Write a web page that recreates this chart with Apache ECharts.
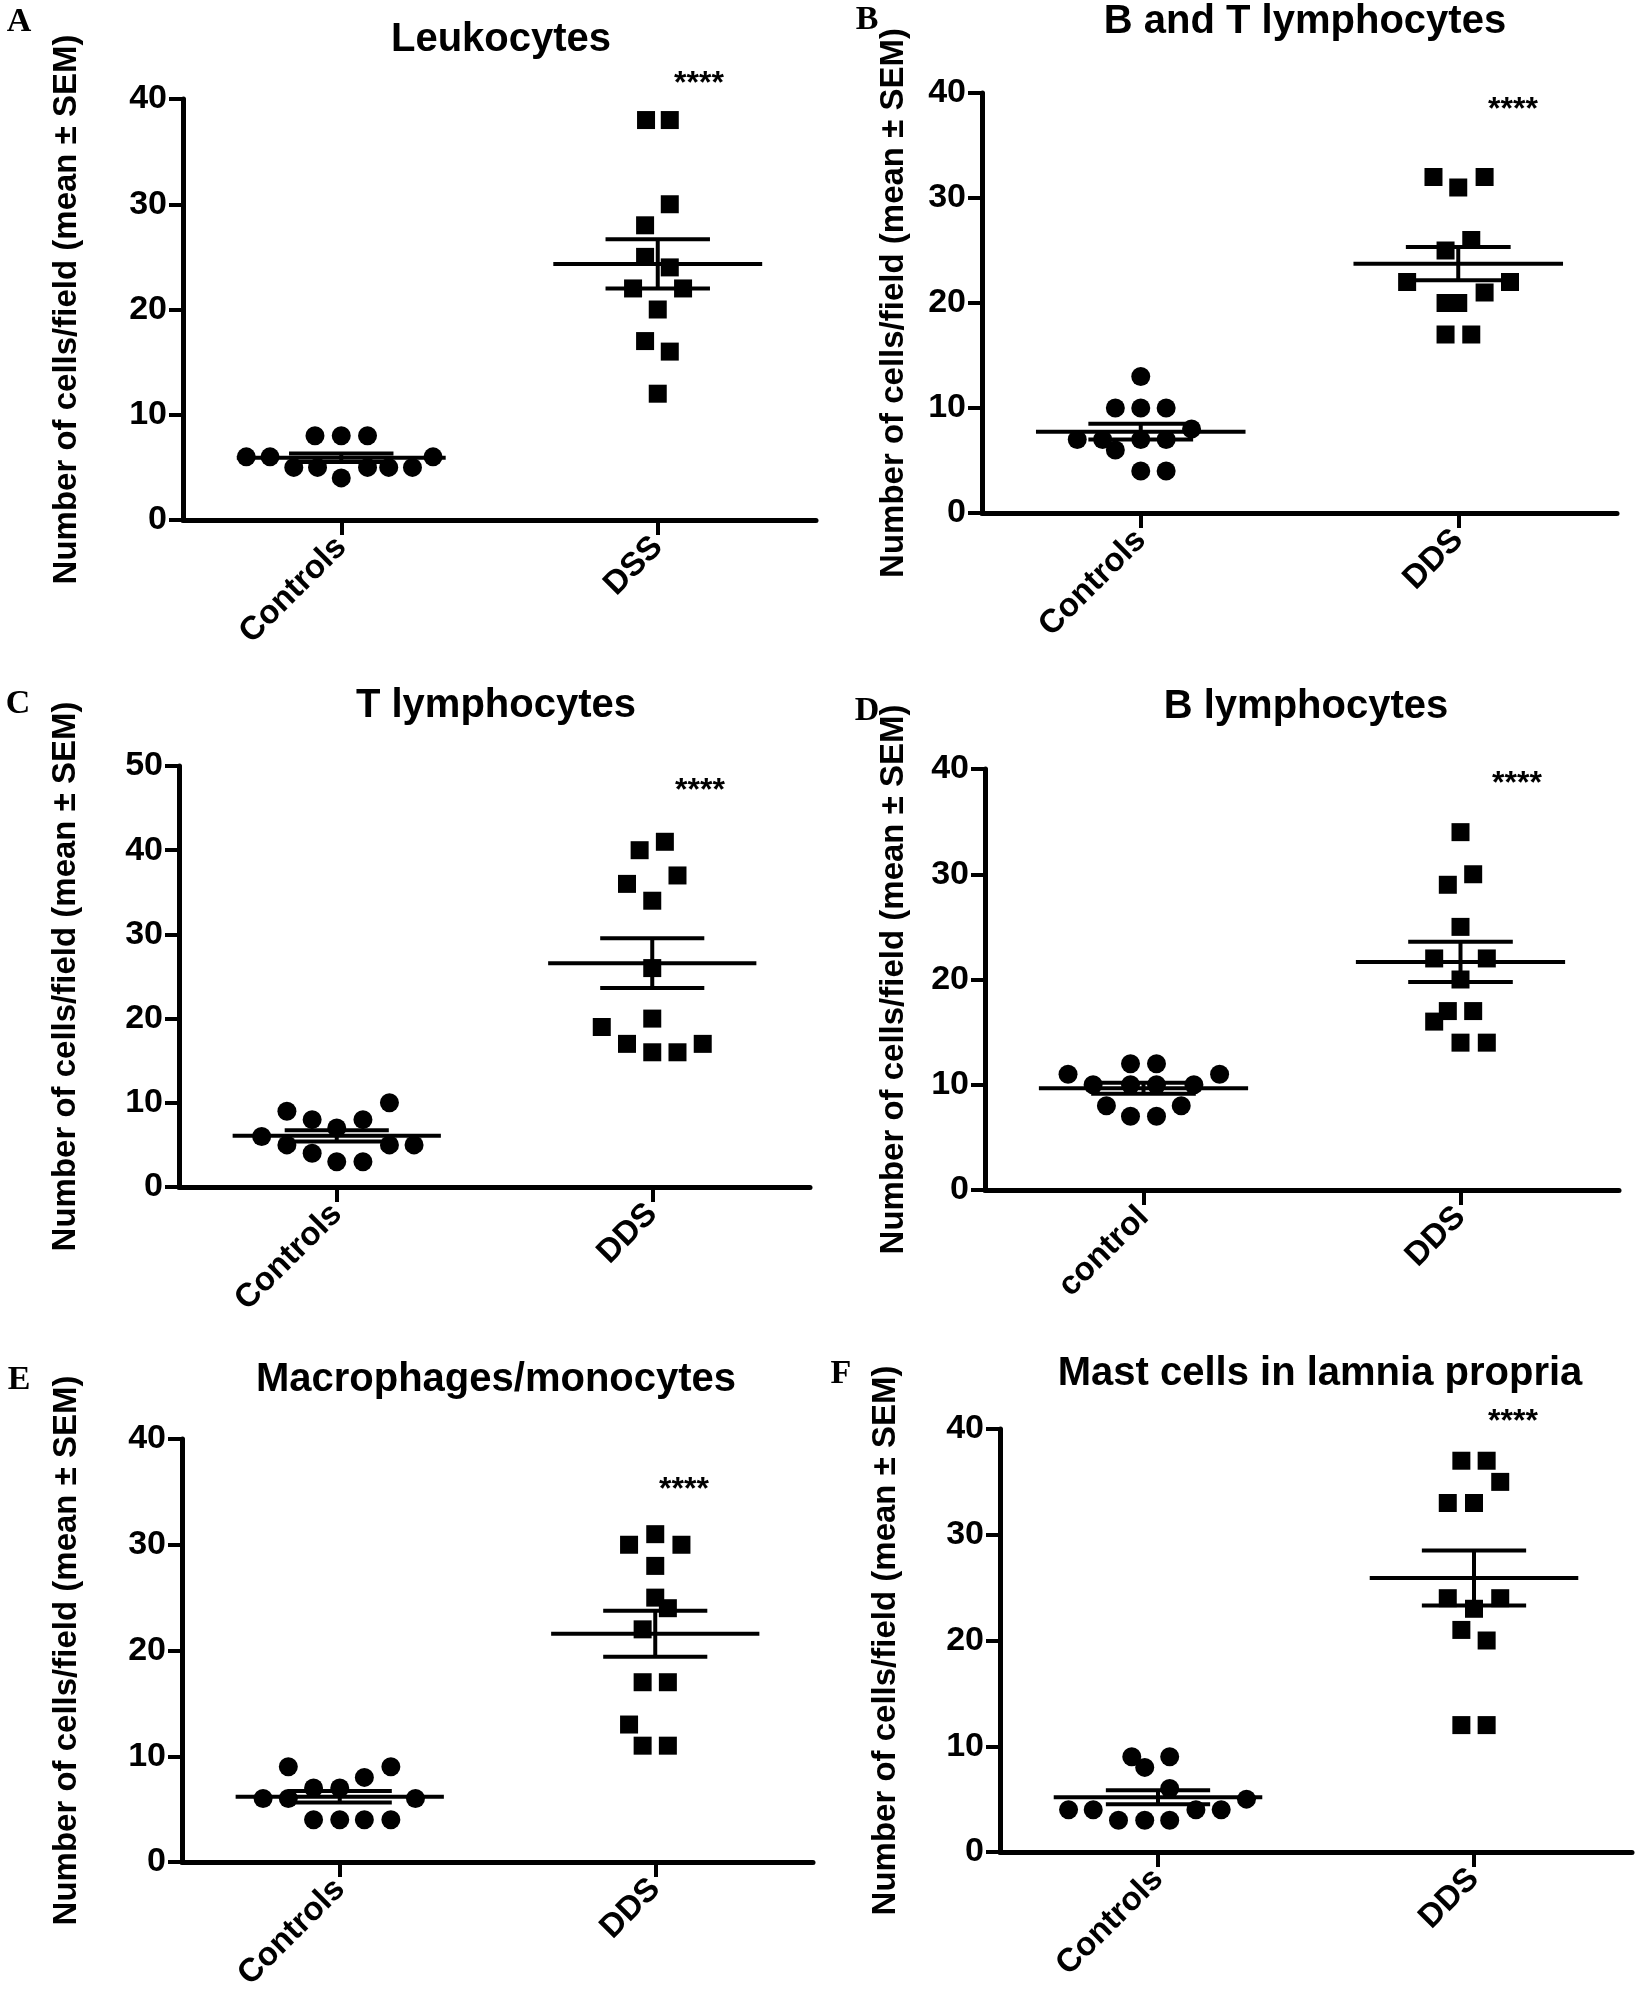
<!DOCTYPE html>
<html><head><meta charset="utf-8">
<script src="https://cdn.jsdelivr.net/npm/echarts/dist/echarts.min.js"></script>
<style>html,body{margin:0;padding:0;background:#fff}#c{width:1644px;height:2003px}</style>
</head><body><div id="c"></div>
<script>
// ---------- data ----------
const panelTitles = ['Leukocytes','B and T lymphocytes','T lymphocytes','B lymphocytes','Macrophages/monocytes','Mast cells in lamnia propria'];
const panelLetters = ['A','B','C','D','E','F'];
const yAxisName = 'Number of cells/field (mean \u00b1 SEM)';
const significance = '****';

const catsA = ['Controls','DSS'];
const catsB = ['Controls','DDS'];
const catsC = ['Controls','DDS'];
const catsD = ['control','DDS'];
const catsE = ['Controls','DDS'];
const catsF = ['Controls','DDS'];

const yMaxes = [40, 40, 50, 40, 40, 40];
const yStep = 10;

// A Leukocytes
const leukoCtrl = [8,8,8,6,6,6,5,5,5,5,5,4];
const leukoCtrlJitter = [-0.083,0,0.083,-0.3,-0.225,0.29,-0.15,-0.075,0.083,0.15,0.225,0];
const leukoDss = [38,38,30,28,25,24,22,22,20,17,16,12];
const leukoDssJitter = [-0.037,0.038,0.038,-0.04,-0.04,0.038,-0.078,0.08,0,-0.04,0.038,0];
// B B and T lymphocytes
const btCtrl = [13,10,10,10,8,7,7,7,7,6,4,4];
const btCtrlJitter = [0,-0.08,0,0.08,0.16,-0.2,-0.12,0,0.08,-0.08,0,0.08];
const btDds = [32,32,31,26,25,22,22,21,20,20,17,17];
const btDdsJitter = [-0.078,0.083,0,0.041,-0.04,-0.161,0.163,0.083,-0.04,0,-0.04,0.041];
// C T lymphocytes
const tCtrl = [9,10,8,8,7,6,5,5,5,4,3,3];
const tCtrlJitter = [-0.158,0.167,-0.078,0.083,0,-0.238,-0.158,0.167,0.245,-0.078,0,0.083];
const tDds = [41,40,37,36,34,26,20,19,17,16,16,17];
const tDdsJitter = [0.04,-0.04,0.08,-0.08,0,0,0,-0.16,-0.08,0,0.08,0.16];
// D B lymphocytes
const bCtrl = [12,12,11,11,10,10,10,10,8,8,7,7];
const bCtrlJitter = [-0.041,0.041,-0.238,0.24,-0.159,-0.041,0.041,0.159,-0.117,0.119,-0.041,0.041];
const bDds = [34,30,29,25,22,22,20,17,17,16,14,14];
const bDdsJitter = [0,0.04,-0.04,0,-0.083,0.083,0,-0.04,0.04,-0.083,0,0.083];
// E Macrophages/monocytes
const macCtrl = [9,9,8,7,7,6,6,6,4,4,4,4];
const macCtrlJitter = [-0.163,0.162,0.078,-0.083,0,-0.243,-0.163,0.24,-0.083,0,0.078,0.162];
const macDds = [31,30,30,28,25,24,22,17,17,13,11,11];
const macDdsJitter = [0,-0.083,0.083,0,0,0.04,-0.04,-0.04,0.04,-0.083,-0.04,0.04];
// F Mast cells
const mastCtrl = [9,9,8,6,5,4,4,4,4,3,3,3];
const mastCtrlJitter = [-0.083,0.037,-0.042,0.037,0.28,-0.283,-0.205,0.12,0.2,-0.125,-0.042,0.037];
const mastDds = [37,37,35,33,33,24,24,23,21,20,12,12];
const mastDdsJitter = [-0.04,0.04,0.083,-0.083,0,-0.083,0.083,0,-0.04,0.04,-0.04,0.04];

// ---------- layout ----------
const FONT = '"Liberation Sans", Arial, Helvetica, sans-serif';
const layouts = [
  {left:183, top:99,  width:633, height:421, nameGap:100, title:[501,40],   stars:[699,84],   letter:[19,22]},
  {left:982, top:93,  width:635, height:420, nameGap:72,  title:[1305,22],  stars:[1513,110], letter:[867,20]},
  {left:179, top:766, width:631, height:421, nameGap:97,  title:[496,706],  stars:[700,791],  letter:[18,704]},
  {left:985, top:769, width:634, height:421, nameGap:75,  title:[1306,707], stars:[1517,784], letter:[867,711]},
  {left:182, top:1439,width:631, height:423, nameGap:99,  title:[496,1380], stars:[684,1490], letter:[19,1380]},
  {left:1000,top:1429,width:632, height:423, nameGap:98,  title:[1320,1374],stars:[1513,1422],letter:[841,1374]}
];
const groups = [
  {cats:catsA, ctrl:leukoCtrl, ctrlJ:leukoCtrlJitter, dds:leukoDss, ddsJ:leukoDssJitter},
  {cats:catsB, ctrl:btCtrl, ctrlJ:btCtrlJitter, dds:btDds, ddsJ:btDdsJitter},
  {cats:catsC, ctrl:tCtrl, ctrlJ:tCtrlJitter, dds:tDds, ddsJ:tDdsJitter},
  {cats:catsD, ctrl:bCtrl, ctrlJ:bCtrlJitter, dds:bDds, ddsJ:bDdsJitter},
  {cats:catsE, ctrl:macCtrl, ctrlJ:macCtrlJitter, dds:macDds, ddsJ:macDdsJitter},
  {cats:catsF, ctrl:mastCtrl, ctrlJ:mastCtrlJitter, dds:mastDds, ddsJ:mastDdsJitter}
];

function stats(arr){
  const n = arr.length;
  const m = arr.reduce((a,b)=>a+b,0)/n;
  const sd = Math.sqrt(arr.reduce((a,b)=>a+(b-m)*(b-m),0)/(n-1));
  return [m, sd/Math.sqrt(n)];
}

function renderMeanSem(params, api){
  const c = api.value(0), m = api.value(1), s = api.value(2);
  const p = (x,y)=>api.coord([x,y]);
  const st = {stroke:'#000', lineWidth:4};
  const mk = (a,b)=>({type:'line', shape:{x1:a[0],y1:a[1],x2:b[0],y2:b[1]}, style:st});
  return {type:'group', children:[
    mk(p(c-0.33,m), p(c+0.33,m)),
    mk(p(c-0.165,m+s), p(c+0.165,m+s)),
    mk(p(c-0.165,m-s), p(c+0.165,m-s)),
    mk(p(c,m-s), p(c,m+s))
  ]};
}

const grid=[], xAxis=[], yAxis=[], series=[], graphic=[];
layouts.forEach((L,i)=>{
  const g = groups[i];
  grid.push({left:L.left, top:L.top, width:L.width, height:L.height, containLabel:false});
  xAxis.push({
    type:'category', gridIndex:i, data:g.cats, boundaryGap:true,
    axisLine:{show:true, lineStyle:{color:'#000', width:5}},
    axisTick:{show:true, alignWithLabel:true, length:15, lineStyle:{color:'#000', width:4}},
    axisLabel:{rotate:45, margin:22, color:'#000', fontSize:33, fontWeight:'bold', fontFamily:FONT},
    splitLine:{show:false}
  });
  xAxis.push({type:'value', gridIndex:i, min:0, max:2, show:false});
  yAxis.push({
    type:'value', gridIndex:i, min:0, max:yMaxes[i], interval:yStep,
    axisLine:{show:true, lineStyle:{color:'#000', width:5}},
    axisTick:{show:true, length:14, lineStyle:{color:'#000', width:4}},
    axisLabel:{margin:16, color:'#000', fontSize:34, fontWeight:'bold', fontFamily:FONT},
    splitLine:{show:false},
    name:yAxisName, nameLocation:'middle', nameRotate:90, nameGap:L.nameGap,
    nameTextStyle:{color:'#000', fontSize:33, fontWeight:'bold', fontFamily:FONT}
  });
  const xi = 2*i+1;
  series.push({type:'scatter', xAxisIndex:xi, yAxisIndex:i, symbol:'circle', symbolSize:19,
    itemStyle:{color:'#000', opacity:1}, silent:true,
    data:g.ctrl.map((v,k)=>[0.5+g.ctrlJ[k], v])});
  series.push({type:'scatter', xAxisIndex:xi, yAxisIndex:i, symbol:'rect', symbolSize:18,
    itemStyle:{color:'#000', opacity:1}, silent:true,
    data:g.dds.map((v,k)=>[1.5+g.ddsJ[k], v])});
  const sc = stats(g.ctrl), sd = stats(g.dds);
  series.push({type:'custom', xAxisIndex:xi, yAxisIndex:i, z:5, silent:true,
    renderItem:renderMeanSem,
    data:[[0.5, sc[0], sc[1]],[1.5, sd[0], sd[1]]]});
  const txt = (x,y,text,font)=>({type:'text', x:x, y:y, z:10,
    style:{text:text, font:font, fill:'#000', align:'center', verticalAlign:'middle', textAlign:'center', textVerticalAlign:'middle'}});
  graphic.push(txt(L.title[0], L.title[1], panelTitles[i], 'bold 40px '+FONT));
  graphic.push(txt(L.stars[0], L.stars[1], significance, 'bold 32px '+FONT));
  graphic.push(txt(L.letter[0], L.letter[1], panelLetters[i], 'bold 34px "Liberation Serif", "Times New Roman", serif'));
});

const chart = echarts.init(document.getElementById('c'), null, {renderer:'canvas'});
chart.setOption({animation:false, backgroundColor:'#fff', grid, xAxis, yAxis, series, graphic});
</script></body></html>
